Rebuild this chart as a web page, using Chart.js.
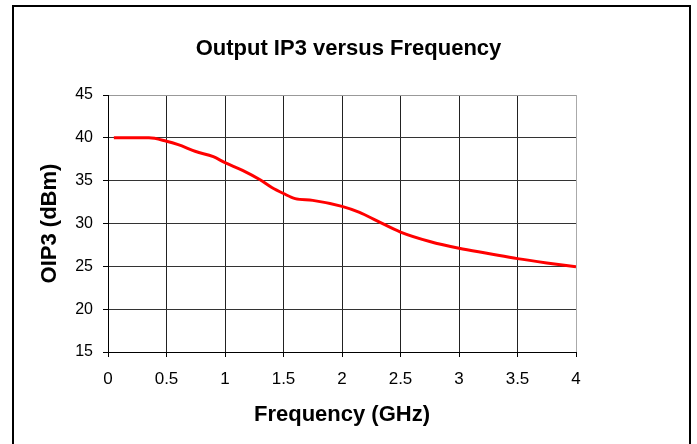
<!DOCTYPE html>
<html>
<head>
<meta charset="utf-8">
<script src="https://cdn.jsdelivr.net/npm/chart.js@4/dist/chart.umd.min.js"></script>
<style>
  html, body { margin: 0; padding: 0; background: #fff; }
  #wrap { width: 697px; height: 444px; }
</style>
</head>
<body>
<div id="wrap"><canvas id="chart"></canvas></div>
<script>
// values
const freqGHz = [0.05, 0.35, 0.5, 0.6, 0.75, 0.9, 1.0, 1.15, 1.3, 1.4, 1.5, 1.6, 1.75, 2.0, 2.15, 2.3, 2.5, 2.75, 3.0, 3.25, 3.5, 3.75, 4.0];
const oip3dBm = [40, 40, 39.6, 39.2, 38.4, 37.8, 37.1, 36.2, 35.1, 34.2, 33.5, 32.9, 32.7, 32.0, 31.3, 30.3, 29.0, 27.9, 27.1, 26.5, 25.9, 25.4, 24.95];
const xTicks = [0, 0.5, 1, 1.5, 2, 2.5, 3, 3.5, 4];
const yTicks = [15, 20, 25, 30, 35, 40, 45];

const chartTitle = "Output IP3 versus Frequency";
const xTitle = "Frequency (GHz)";
const yTitle = "OIP3 (dBm)";

const FONT = "'Liberation Sans', Arial, sans-serif";

// outer frame like the original spreadsheet chart
const framePlugin = {
  id: "frame",
  beforeDraw(chart) {
    const ctx = chart.ctx;
    ctx.save();
    ctx.fillStyle = "#fff";
    ctx.fillRect(0, 0, chart.width, chart.height);
    ctx.strokeStyle = "#000";
    ctx.lineWidth = 2;
    ctx.strokeRect(13, 6, 677, 460);
    ctx.restore();
  }
};

new Chart(document.getElementById("chart").getContext("2d"), {
  type: "line",
  data: {
    datasets: [{
      label: "OIP3",
      data: freqGHz.map((f, i) => ({ x: f, y: oip3dBm[i] })),
      borderColor: "#ff0000",
      borderWidth: 3,
      pointRadius: 0,
      fill: false,
      cubicInterpolationMode: "monotone"
    }]
  },
  options: {
    responsive: true,
    maintainAspectRatio: false,
    animation: false,
    layout: { padding: 0 },
    plugins: {
      legend: { display: false },
      tooltip: { enabled: false },
      title: {
        display: true,
        text: chartTitle,
        color: "#000",
        font: { family: FONT, size: 22, weight: "bold" },
        padding: { top: 36, bottom: 32.6 }
      }
    },
    scales: {
      x: {
        type: "linear",
        min: 0,
        max: 4,
        afterBuildTicks: (s) => { s.ticks = xTicks.map(v => ({ value: v })); },
        afterFit: (s) => { s.height = 92; },
        ticks: {
          color: "#000",
          font: { family: FONT, size: 17 },
          padding: 12,
          maxRotation: 0,
          autoSkip: false,
          callback: (v) => String(v)
        },
        grid: {
          color: (c) => c.tick && c.tick.value === 4 ? "#aaa" : "#222",
          tickColor: "#000",
          tickLength: 5,
          lineWidth: 1
        },
        border: { color: "#000", width: 1 },
        title: {
          display: true,
          text: xTitle,
          color: "#000",
          font: { family: FONT, size: 22, weight: "bold" },
          padding: { top: 0, bottom: 16 }
        }
      },
      y: {
        type: "linear",
        min: 15,
        max: 45,
        afterBuildTicks: (s) => { s.ticks = yTicks.map(v => ({ value: v })); },
        afterFit: (s) => { s.width = 108; },
        ticks: {
          color: "#000",
          font: { family: FONT, size: 16 },
          padding: 10
        },
        grid: {
          color: (c) => c.tick && c.tick.value === 45 ? "#999" : "#333",
          tickColor: "#000",
          tickLength: 5,
          lineWidth: 1
        },
        border: { color: "#000", width: 1 },
        title: {
          display: true,
          text: yTitle,
          color: "#000",
          font: { family: FONT, size: 22, weight: "bold" },
          padding: { top: 37, bottom: 0 }
        }
      },
      yRight: {
        position: "right",
        display: true,
        grid: { display: false },
        ticks: { display: false },
        border: { display: false },
        afterFit: (s) => { s.width = 121; }
      }
    }
  },
  plugins: [framePlugin]
});
</script>
</body>
</html>
